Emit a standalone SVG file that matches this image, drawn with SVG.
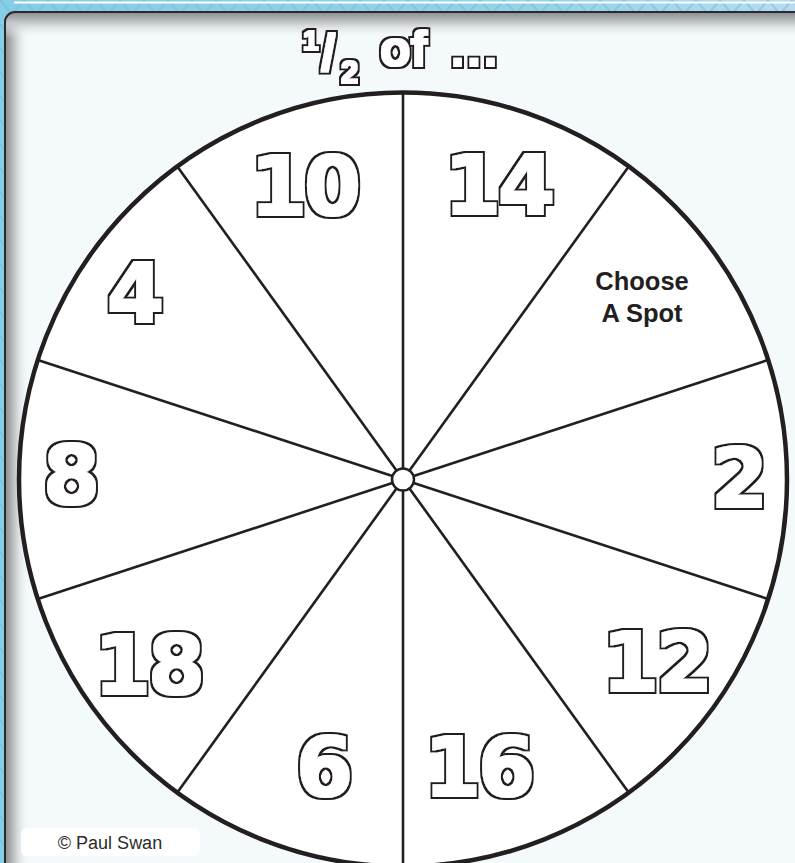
<svg xmlns="http://www.w3.org/2000/svg" width="795" height="863" viewBox="0 0 795 863">
  <style>
    .num { font-family: "DejaVu Sans", "Liberation Sans", sans-serif; font-weight: bold; font-size: 82px; letter-spacing: -3px; fill: #ffffff; text-anchor: middle; filter: url(#outlineBig); }
    .title { font-family: "Liberation Sans", Arial, sans-serif; font-weight: bold; fill: #ffffff; filter: url(#outlineSmall); }
    .spoke { stroke: #231f20; stroke-width: 2.6; fill: none; }
    .label { font-family: "Liberation Sans", Arial, sans-serif; font-weight: bold; font-size: 25.5px; fill: #231f20; text-anchor: middle; }
    .copy { font-family: "Liberation Sans", Arial, sans-serif; font-size: 18px; fill: #2b2b2b; text-anchor: middle; }
  </style>
  <defs>
    <filter id="outlineBig" x="-20%" y="-20%" width="140%" height="140%">
      <feMorphology in="SourceAlpha" operator="dilate" radius="3.3" result="outer"/>
      <feFlood flood-color="#231f20" result="blk"/>
      <feComposite in="blk" in2="outer" operator="in" result="black"/>
      <feMorphology in="SourceAlpha" operator="dilate" radius="1.2" result="inner"/>
      <feFlood flood-color="#ffffff" result="wht"/>
      <feComposite in="wht" in2="inner" operator="in" result="white"/>
      <feMerge><feMergeNode in="black"/><feMergeNode in="white"/></feMerge>
    </filter>
    <filter id="outlineSmall" x="-30%" y="-30%" width="160%" height="160%">
      <feMorphology in="SourceAlpha" operator="dilate" radius="2.5" result="outer"/>
      <feFlood flood-color="#231f20" result="blk"/>
      <feComposite in="blk" in2="outer" operator="in" result="black"/>
      <feMorphology in="SourceAlpha" operator="dilate" radius="0.8" result="inner"/>
      <feFlood flood-color="#ffffff" result="wht"/>
      <feComposite in="wht" in2="inner" operator="in" result="white"/>
      <feMerge><feMergeNode in="black"/><feMergeNode in="white"/></feMerge>
    </filter>
    <linearGradient id="bg" x1="0" y1="0" x2="1" y2="0">
      <stop offset="0" stop-color="#86cde6"/>
      <stop offset="0.7" stop-color="#95d3ea"/>
      <stop offset="1" stop-color="#b7dcf1"/>
    </linearGradient>
    <pattern id="zig" x="0" y="0" width="48" height="24" patternUnits="userSpaceOnUse">
      <path d="M0 0 L12 14 L24 0 M24 0 L36 14 L48 0" stroke="#6fb9d6" stroke-width="2" fill="none" opacity="0.5"/>
    </pattern>
    <linearGradient id="shadeL" x1="0" y1="0" x2="1" y2="0">
      <stop offset="0" stop-color="#8a8c8e"/>
      <stop offset="0.4" stop-color="#c3c7ca"/>
      <stop offset="1" stop-color="#f4f9fc" stop-opacity="0"/>
    </linearGradient>
    <linearGradient id="shadeT" x1="0" y1="0" x2="0" y2="1">
      <stop offset="0" stop-color="#8a8c8e"/>
      <stop offset="0.4" stop-color="#c3c7ca"/>
      <stop offset="1" stop-color="#f4f9fc" stop-opacity="0"/>
    </linearGradient>
    <clipPath id="panelClip">
      <rect x="5" y="12" width="800" height="870" rx="10"/>
    </clipPath>
  </defs>

  <g id="background">
    <rect x="0" y="0" width="795" height="863" fill="url(#bg)"/>
    <rect x="0" y="0" width="795" height="863" fill="url(#zig)"/>
    <line x1="14" y1="2.5" x2="795" y2="2.5" stroke="#ffffff" stroke-width="2"/>
  </g>

  <g id="panel">
    <rect x="5" y="12" width="800" height="870" rx="10" fill="#f4f9fc"/>
    <g clip-path="url(#panelClip)">
      <rect x="5" y="12" width="24" height="870" fill="url(#shadeL)"/>
      <rect x="5" y="12" width="800" height="26" fill="url(#shadeT)"/>
    </g>
    <rect x="5" y="12" width="800" height="870" rx="10" fill="none" stroke="#2b2b2b" stroke-width="2"/>
  </g>

  <g id="title">
    <text class="title"><tspan x="303" y="50" font-size="28">1</tspan><tspan x="321" y="71" font-size="52">/</tspan><tspan x="341" y="83" font-size="31">2</tspan><tspan x="380" y="66" font-size="50">of</tspan><tspan x="451" y="66" font-size="48" letter-spacing="3">...</tspan></text>
  </g>

  <g id="wheel">
    <ellipse cx="403" cy="479.5" rx="384" ry="387" fill="#ffffff" stroke="#231f20" stroke-width="4.5"/>
  </g>

  <g id="connectors">
    <line class="spoke" x1="403" y1="479.5" x2="403" y2="92.5"/>
    <line class="spoke" x1="403" y1="479.5" x2="628.7" y2="166.4"/>
    <line class="spoke" x1="403" y1="479.5" x2="768.2" y2="359.9"/>
    <line class="spoke" x1="403" y1="479.5" x2="768.2" y2="599.1"/>
    <line class="spoke" x1="403" y1="479.5" x2="628.7" y2="792.6"/>
    <line class="spoke" x1="403" y1="479.5" x2="403" y2="866.5"/>
    <line class="spoke" x1="403" y1="479.5" x2="177.3" y2="792.6"/>
    <line class="spoke" x1="403" y1="479.5" x2="37.8" y2="599.1"/>
    <line class="spoke" x1="403" y1="479.5" x2="37.8" y2="359.9"/>
    <line class="spoke" x1="403" y1="479.5" x2="177.3" y2="166.4"/>
  </g>

  <g id="hub">
    <circle cx="403" cy="479.5" r="11" fill="#ffffff" stroke="#231f20" stroke-width="2.5"/>
  </g>

  <g id="sector-10"><text class="num" x="304" y="215">10</text></g>
  <g id="sector-14"><text class="num" x="498" y="214">14</text></g>
  <g id="sector-choose">
    <text class="label" x="642" y="290">Choose</text>
    <text class="label" x="642" y="322">A Spot</text>
  </g>
  <g id="sector-2"><text class="num" x="738" y="507">2</text></g>
  <g id="sector-12"><text class="num" x="656" y="691">12</text></g>
  <g id="sector-16"><text class="num" x="478" y="796">16</text></g>
  <g id="sector-6"><text class="num" x="323" y="796">6</text></g>
  <g id="sector-18"><text class="num" x="148" y="694">18</text></g>
  <g id="sector-8"><text class="num" x="70" y="504">8</text></g>
  <g id="sector-4"><text class="num" x="134" y="322">4</text></g>

  <g id="copyright">
    <rect x="21" y="828" width="179" height="28" rx="6" fill="#ffffff"/>
    <text class="copy" x="110" y="849">© Paul Swan</text>
  </g>
</svg>
